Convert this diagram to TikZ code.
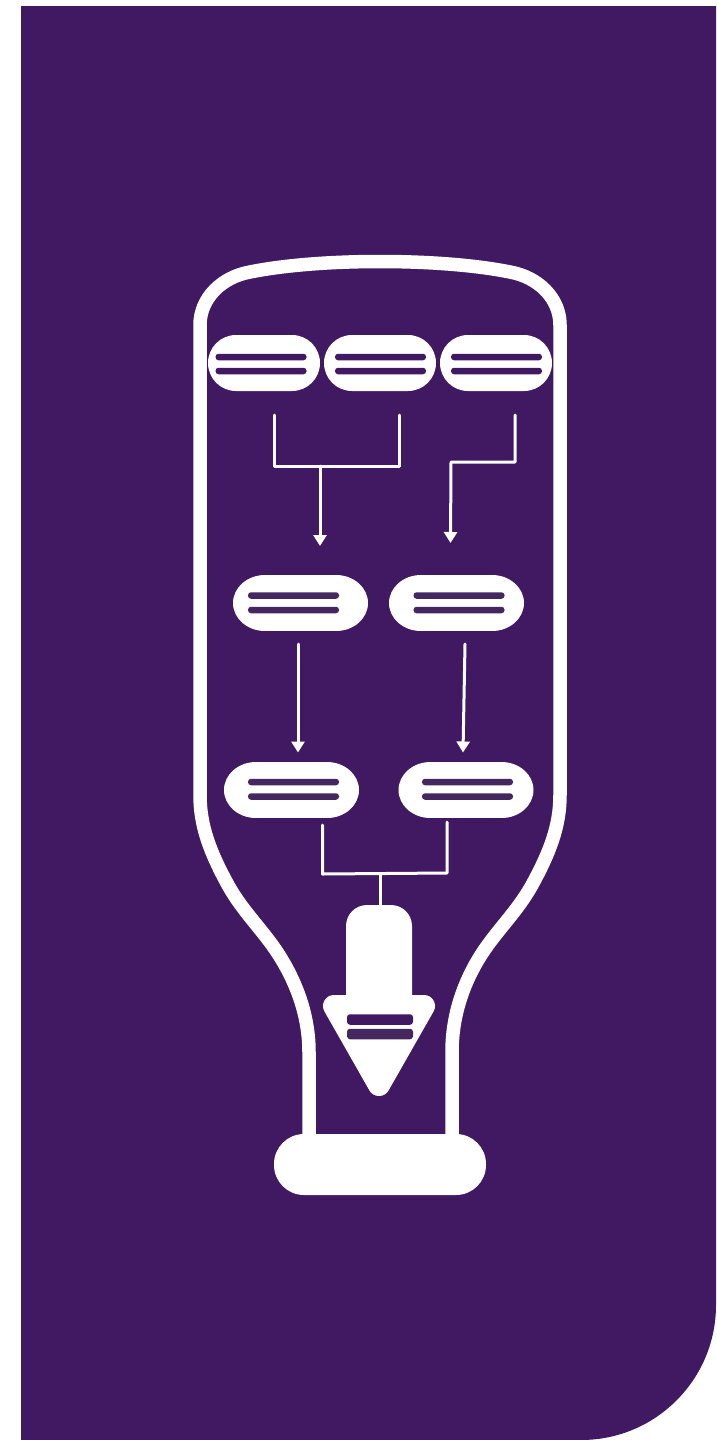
\documentclass[tikz,border=0pt]{standalone}
\usetikzlibrary{arrows.meta}
\definecolor{BottlePurple}{HTML}{411862}
\definecolor{BottlePurpleLight}{HTML}{44275F}
\begin{document}
\begin{tikzpicture}[
  x=1pt,y=-1pt,
  pill/.style={fill=white,rounded corners=28pt,minimum height=56pt,minimum width=112pt,inner sep=0pt,outer sep=0pt},
  oval/.style={pill,rounded corners=0pt,minimum width=71pt},
  ovalend/.style={fill=white,x radius=32pt,y radius=28pt},
  bar/.style={fill=BottlePurple,rounded corners=3pt,minimum width=91pt,minimum height=6.5pt,inner sep=0pt,outer sep=0pt},
  lightbar/.style={bar,fill=BottlePurpleLight},
  link/.style={draw=white,line width=3pt,line cap=round,line join=round},
  arrow/.style={link,-{Triangle[width=13pt,length=11pt]}},
  outline/.style={draw=white,line width=13.5pt}
]
\useasboundingbox (0,0) rectangle (717,1440);
\fill[white] (0,0) rectangle (717,1440);
% panel
\fill[BottlePurple] (21,6) -- (716,6) [rounded corners=135pt] -- (716,1440) [sharp corners] -- (21,1440) -- cycle;
% bottle
\draw[outline] (309,1138) -- (309,1052) .. controls (309,1018) and (298,985) .. (279,955)
  .. controls (263,930) and (243,912) .. (228,885) .. controls (210,852) and (200,826) .. (200,795)
  -- (200,325) .. controls (200,298) and (222,277) .. (250,272) .. controls (290,264) and (340,261.5) .. (380,261.5)
  .. controls (420,261.5) and (470,264) .. (510,272) .. controls (538,277) and (560,298) .. (560,325)
  -- (560,795) .. controls (560,826) and (550,852) .. (532,885) .. controls (517,912) and (497,930) .. (481,955)
  .. controls (462,985) and (452,1018) .. (452,1052) -- (452,1138);
\node[pill,minimum width=212pt,minimum height=61pt,rounded corners=30pt] (base) at (380,1164.5) {};
% top row
\node[pill] (top1) at (264,363) {};
\node[pill] (top2) at (380,363) {};
\node[pill] (top3) at (496,363) {};
\node[bar] (top1a) at (261,357) {};
\node[bar] (top1b) at (261,371) {};
\node[bar] (top2a) at (380.5,357) {};
\node[bar] (top2b) at (380.5,371) {};
\node[bar] (top3a) at (496.5,357) {};
\node[bar] (top3b) at (496.5,371) {};
% middle row
\node[oval] (mid1) at (300.5,603) {};
\node[oval] (mid2) at (456.5,603) {};
\fill[ovalend] (mid1.west) ellipse [] (mid1.east) ellipse [];
\fill[ovalend] (mid2.west) ellipse [] (mid2.east) ellipse [];
\node[lightbar] (mid1a) at (293.5,595.5) {};
\node[lightbar] (mid1b) at (293.5,610) {};
\node[lightbar] (mid2a) at (459,595.5) {};
\node[lightbar] (mid2b) at (459,610) {};
% lower row
\node[oval] (low1) at (291.5,790) {};
\node[oval] (low2) at (466,790) {};
\fill[ovalend] (low1.west) ellipse [] (low1.east) ellipse [];
\fill[ovalend] (low2.west) ellipse [] (low2.east) ellipse [];
\node[lightbar] (low1a) at (293.5,782) {};
\node[lightbar] (low1b) at (293.5,796.5) {};
\node[lightbar] (low2a) at (467.5,782) {};
\node[lightbar] (low2b) at (467.5,796.5) {};
% arrow shape
\fill[white] (346,995) [rounded corners=21pt] -- (346,905) -- (412,905) [sharp corners] -- (412,995) -- cycle;
\filldraw[draw=white,fill=white,line width=22pt,line join=round] (334,1006) -- (424,1006) -- (379,1085) -- cycle;
\node[bar,minimum width=66pt,minimum height=10.5pt] (tipa) at (380,1019.5) {};
\node[lightbar,minimum width=66pt,minimum height=10.5pt] (tipb) at (380,1034) {};
\coordinate (tiptop) at (380,906);
% connector ends
\coordinate (a1) at (274,415);
\coordinate (a2) at (274,466);
\coordinate (a3) at (399,466);
\coordinate (a4) at (399,415);
\coordinate (a5) at (320,466);
\coordinate (a6) at (320,546);
\coordinate (b1) at (515,415);
\coordinate (b2) at (515,462);
\coordinate (b3) at (451,462);
\coordinate (b4) at (450.5,543);
\coordinate (c1) at (298,644);
\coordinate (c2) at (298,752.5);
\coordinate (d1) at (465,644);
\coordinate (d2) at (463,752.5);
\coordinate (e1) at (322.5,825);
\coordinate (e2) at (322.5,874);
\coordinate (e3) at (447,873);
\coordinate (e4) at (447,822);
\coordinate (e5) at (380,873.5);
\draw[link] (a1) -- (a2) -- (a3) -- (a4);
\draw[arrow] (a5) -- (a6);
\draw[arrow] (b1) -- (b2) -- (b3) -- (b4);
\draw[arrow] (c1) -- (c2);
\draw[arrow] (d1) -- (d2);
\draw[link] (e1) -- (e2) -- (e3) -- (e4);
\draw[link] (e5) -- (tiptop);
\end{tikzpicture}
\end{document}
